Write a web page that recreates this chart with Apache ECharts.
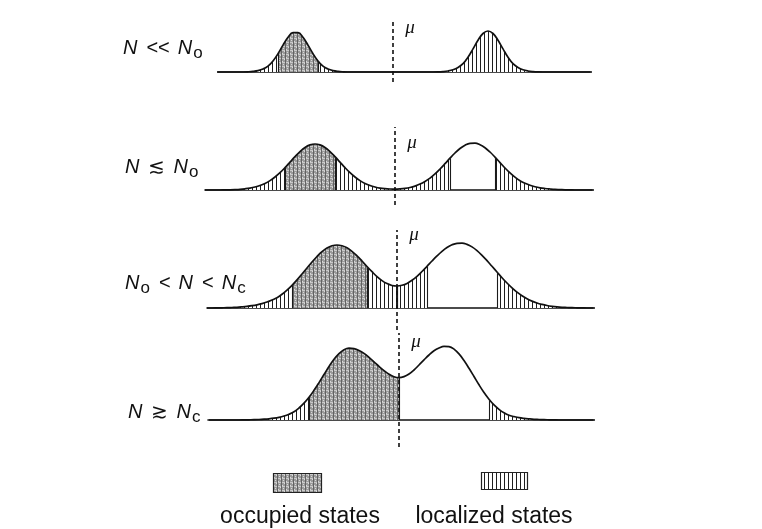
<!DOCTYPE html>
<html>
<head>
<meta charset="utf-8">
<script src="https://cdn.jsdelivr.net/npm/echarts@6/dist/echarts.min.js"></script>
<style>
  html, body { margin: 0; padding: 0; background: #ffffff; }
  #chart { width: 762px; height: 529px; }
</style>
</head>
<body>
<div id="chart"></div>
<script>
// ---- data -------------------------------------------------------------
// Energy samples (arbitrary units, chemical potential mu at 0), shared by all panels
const energy = [
  -38, -37, -36, -35, -34, -33, -32, -31, -30, -29, -28, -27, -26, -25, -24, -23, -22, -21, -20, -19,
  -18, -17, -16, -15, -14, -13, -12, -11, -10, -9, -8, -7, -6, -5, -4, -3, -2, -1, 0, 1,
  2, 3, 4, 5, 6, 7, 8, 9, 10, 11, 12, 13, 14, 15, 16, 17, 18, 19, 20, 21,
  22, 23, 24, 25, 26, 27, 28, 29, 30, 31, 32, 33, 34, 35, 36, 37, 38, 39, 40
];

// Density of states, one array per panel (same length as energy)
const dosLow = [ // N << N0
  0, 0, 0, 0, 0, 0, 0, 0, 0, 0.02, 0.06, 0.14, 0.30, 0.58, 1.10, 1.83, 2.69, 3.47, 3.94, 3.94,
  3.47, 2.69, 1.83, 1.10, 0.58, 0.30, 0.14, 0.06, 0.02, 0, 0, 0, 0, 0, 0, 0, 0, 0, 0, 0,
  0, 0, 0, 0, 0, 0, 0, 0.01, 0.04, 0.10, 0.22, 0.45, 0.83, 1.48, 2.31, 3.18, 3.85, 4.10, 3.85, 3.18,
  2.31, 1.48, 0.83, 0.45, 0.22, 0.10, 0.04, 0.01, 0, 0, 0, 0, 0, 0, 0, 0, 0, 0, 0
];
const dosBelow = [ // N <~ N0
  0, 0, 0, 0, 0.01, 0.02, 0.04, 0.07, 0.12, 0.19, 0.30, 0.45, 0.66, 0.94, 1.30, 1.73, 2.24, 2.79, 3.34, 3.84,
  4.25, 4.51, 4.60, 4.51, 4.25, 3.84, 3.34, 2.79, 2.24, 1.73, 1.30, 0.94, 0.66, 0.45, 0.30, 0.19, 0.13, 0.10, 0.09, 0.11,
  0.16, 0.25, 0.39, 0.59, 0.86, 1.19, 1.61, 2.10, 2.63, 3.18, 3.70, 4.15, 4.48, 4.67, 4.69, 4.53, 4.23, 3.80, 3.29, 2.74,
  2.20, 1.71, 1.28, 0.92, 0.68, 0.48, 0.33, 0.22, 0.15, 0.10, 0.06, 0.04, 0.02, 0.01, 0, 0, 0, 0, 0
];
const dosBetween = [ // N0 < N < Nc
  0, 0, 0.01, 0.02, 0.03, 0.05, 0.07, 0.11, 0.16, 0.23, 0.32, 0.44, 0.60, 0.80, 1.03, 1.37, 1.79, 2.27, 2.81, 3.40,
  4.00, 4.60, 5.15, 5.63, 5.99, 6.22, 6.30, 6.22, 6.02, 5.67, 5.22, 4.70, 4.15, 3.63, 3.14, 2.74, 2.44, 2.25, 2.20, 2.27,
  2.46, 2.77, 3.17, 3.65, 4.17, 4.70, 5.21, 5.67, 6.05, 6.32, 6.47, 6.49, 6.36, 6.11, 5.74, 5.27, 4.74, 4.17, 3.60, 3.03,
  2.50, 2.02, 1.59, 1.23, 0.93, 0.69, 0.50, 0.36, 0.25, 0.17, 0.11, 0.07, 0.05, 0.03, 0.02, 0.01, 0, 0, 0
];
const dosAbove = [ // N >~ Nc
  0, 0, 0, 0, 0, 0, 0, 0.01, 0.02, 0.03, 0.05, 0.08, 0.12, 0.18, 0.27, 0.40, 0.58, 0.82, 1.20, 1.68,
  2.27, 2.97, 3.74, 4.55, 5.35, 6.07, 6.64, 7.02, 7.18, 7.14, 6.96, 6.66, 6.26, 5.82, 5.36, 4.94, 4.58, 4.33, 4.24, 4.34,
  4.60, 5.00, 5.50, 6.01, 6.50, 6.92, 7.20, 7.37, 7.34, 7.09, 6.61, 5.95, 5.17, 4.35, 3.52, 2.75, 2.08, 1.51, 1.07, 0.72,
  0.47, 0.34, 0.23, 0.16, 0.11, 0.07, 0.05, 0.03, 0.02, 0.01, 0, 0, 0, 0, 0, 0, 0, 0, 0
];
const dosPanels = [dosLow, dosBelow, dosBetween, dosAbove];

// Energy windows of occupied states and of localized (band-tail) states, per panel
const occupiedRanges = [
  [[-23, -15]],
  [[-22, -12]],
  [[-21, -6]],
  [[-18, 0]]
];
const localizedRanges = [
  [[-30, -9], [9, 30]],
  [[-30, 0], [0, 11], [20, 33]],
  [[-33, 0], [0, 6], [20, 36]],
  [[-29, -18], [18, 34]]
];
const mu = 0;

// Row labels (rich text) and legend texts
const rowLabels = [
  '{n|N}{op|<<}{n|N}{s|o}',
  '{n|N}{op|\u2272}{n|N}{s|o}',
  '{n|N}{s|o}{op|<}{n|N}{op|<}{n|N}{s|c}',
  '{n|N}{op|\u2273}{n|N}{s|c}'
];
const legendTexts = ['occupied states', 'localized states'];

// ---- layout -----------------------------------------------------------
const X_UNIT = 5;     // px per energy unit
const Y_UNIT = 10;    // px per density unit
const muPx = [393, 395, 397, 399];            // horizontal position of mu in each panel
const baselinePx = [72, 190, 308, 420];       // vertical position of the energy axis
const xExtent = [[-35, 39.4], [-38, 39.4], [-38, 39.2], [-38.2, 38.8]];
const yExtent = [[-1.0, 5.0], [-1.5, 6.3], [-2.2, 7.8], [-2.7, 8.7]];
const muLabelY = [4.4, 4.7, 7.3, 7.8];
const labelPos = [[123, 48], [125, 167], [125, 283], [128, 412]];

// ---- textures -----------------------------------------------------------
function hatchTexture() {
  const c = document.createElement('canvas');
  c.width = 4; c.height = 4;
  const g = c.getContext('2d');
  g.fillStyle = '#ffffff';
  g.fillRect(0, 0, 4, 4);
  g.fillStyle = '#1e1e1e';
  g.fillRect(0, 0, 1, 4);
  return c;
}
function grayTexture() {
  const c = document.createElement('canvas');
  c.width = 8; c.height = 8;
  const g = c.getContext('2d');
  g.fillStyle = '#9a9a9a';
  g.fillRect(0, 0, 8, 8);
  g.fillStyle = '#cacaca';
  g.fillRect(0, 2, 8, 1);
  g.fillRect(0, 6, 8, 1);
  g.fillStyle = '#626262';
  g.fillRect(1, 0, 1, 8);
  g.fillRect(5, 0, 1, 8);
  g.fillStyle = '#d8d8d8';
  [[3, 0], [7, 4], [2, 5], [6, 1], [4, 3], [0, 7]].forEach(p => g.fillRect(p[0], p[1], 1, 1));
  return c;
}
const hatchFill = { image: hatchTexture(), repeat: 'repeat' };
const grayFill = { image: grayTexture(), repeat: 'repeat' };

// ---- option -----------------------------------------------------------
const grids = [], xAxes = [], yAxes = [], series = [];

dosPanels.forEach((dos, p) => {
  const [xmin, xmax] = xExtent[p];
  const [ymin, ymax] = yExtent[p];
  grids.push({
    left: muPx[p] + xmin * X_UNIT,
    width: (xmax - xmin) * X_UNIT,
    top: baselinePx[p] - ymax * Y_UNIT,
    height: (ymax - ymin) * Y_UNIT
  });
  xAxes.push({
    type: 'value', gridIndex: p, min: xmin, max: xmax,
    axisLine: { show: true, onZero: true, lineStyle: { color: '#111', width: 1.6 } },
    axisTick: { show: false }, axisLabel: { show: false }, splitLine: { show: false }
  });
  yAxes.push({ type: 'value', gridIndex: p, min: ymin, max: ymax, show: false });

  const points = energy.map((e, i) => [e, dos[i]]);
  const heightAt = e => dos[energy.indexOf(e)];
  const pick = (a, b) => points.filter(pt => pt[0] >= a && pt[0] <= b);

  localizedRanges[p].forEach(r => series.push({
    type: 'line', xAxisIndex: p, yAxisIndex: p, data: pick(r[0], r[1]),
    smooth: 0.4, showSymbol: false, silent: true, z: 1,
    lineStyle: { width: 0, opacity: 0 },
    areaStyle: { color: hatchFill, opacity: 1 }
  }));
  occupiedRanges[p].forEach(r => series.push({
    type: 'line', xAxisIndex: p, yAxisIndex: p, data: pick(r[0], r[1]),
    smooth: 0.4, showSymbol: false, silent: true, z: 2,
    lineStyle: { width: 0, opacity: 0 },
    areaStyle: { color: grayFill, opacity: 1 }
  }));

  // vertical edges of the shaded windows
  const edges = [];
  localizedRanges[p].concat(occupiedRanges[p]).forEach(r => {
    r.forEach(e => {
      const h = heightAt(e);
      if (h > 0.15) edges.push([{ coord: [e, 0] }, { coord: [e, h] }]);
    });
  });

  series.push({
    type: 'line', xAxisIndex: p, yAxisIndex: p, data: points,
    smooth: 0.4, showSymbol: false, silent: true, z: 3,
    lineStyle: { color: '#111', width: 1.7 },
    markLine: {
      silent: true, symbol: ['none', 'none'], label: { show: false },
      lineStyle: { color: '#1a1a1a', width: 1.1, type: 'solid' },
      data: edges.concat([[
        { coord: [mu, ymin], lineStyle: { color: '#111', width: 1.6, type: [4, 3] } },
        { coord: [mu, ymax] }
      ]])
    },
    markPoint: {
      silent: true, symbol: 'circle', symbolSize: 1,
      itemStyle: { color: 'transparent' },
      data: [{
        coord: [mu, muLabelY[p]],
        label: {
          show: true, formatter: '\u03bc', position: 'inside', offset: [17, 0],
          fontFamily: 'Liberation Serif', fontStyle: 'italic', fontSize: 19, color: '#111'
        }
      }]
    }
  });
});

const richStyle = {
  n: { fontFamily: 'Liberation Sans', fontStyle: 'italic', fontSize: 20, fill: '#111' },
  op: { fontFamily: 'Liberation Sans', fontSize: 20, fill: '#111', padding: [0, 8, 0, 9] },
  s: { fontFamily: 'Liberation Sans', fontSize: 17, fill: '#111', padding: [10, 0, 0, 1] }
};

const graphics = rowLabels.map((t, p) => ({
  type: 'text', x: labelPos[p][0], y: labelPos[p][1],
  style: { text: t, rich: richStyle, verticalAlign: 'middle', textVerticalAlign: 'middle', align: 'left' }
}));

graphics.push(
  { type: 'rect', shape: { x: 273.5, y: 473.5, width: 48, height: 19 },
    style: { fill: grayFill, stroke: '#222', lineWidth: 1.2 } },
  { type: 'rect', shape: { x: 481.5, y: 472.5, width: 46, height: 17 },
    style: { fill: hatchFill, stroke: '#222', lineWidth: 1.2 } },
  { type: 'text', x: 300, y: 517,
    style: { text: legendTexts[0], font: '23px "Liberation Sans"', fill: '#111',
             align: 'center', textAlign: 'center', verticalAlign: 'middle', textVerticalAlign: 'middle' } },
  { type: 'text', x: 494, y: 517,
    style: { text: legendTexts[1], font: '23px "Liberation Sans"', fill: '#111',
             align: 'center', textAlign: 'center', verticalAlign: 'middle', textVerticalAlign: 'middle' } }
);

const chart = echarts.init(document.getElementById('chart'), null, { renderer: 'canvas' });
chart.setOption({
  backgroundColor: '#ffffff',
  animation: false,
  grid: grids,
  xAxis: xAxes,
  yAxis: yAxes,
  series: series,
  graphic: graphics
});
</script>
</body>
</html>
